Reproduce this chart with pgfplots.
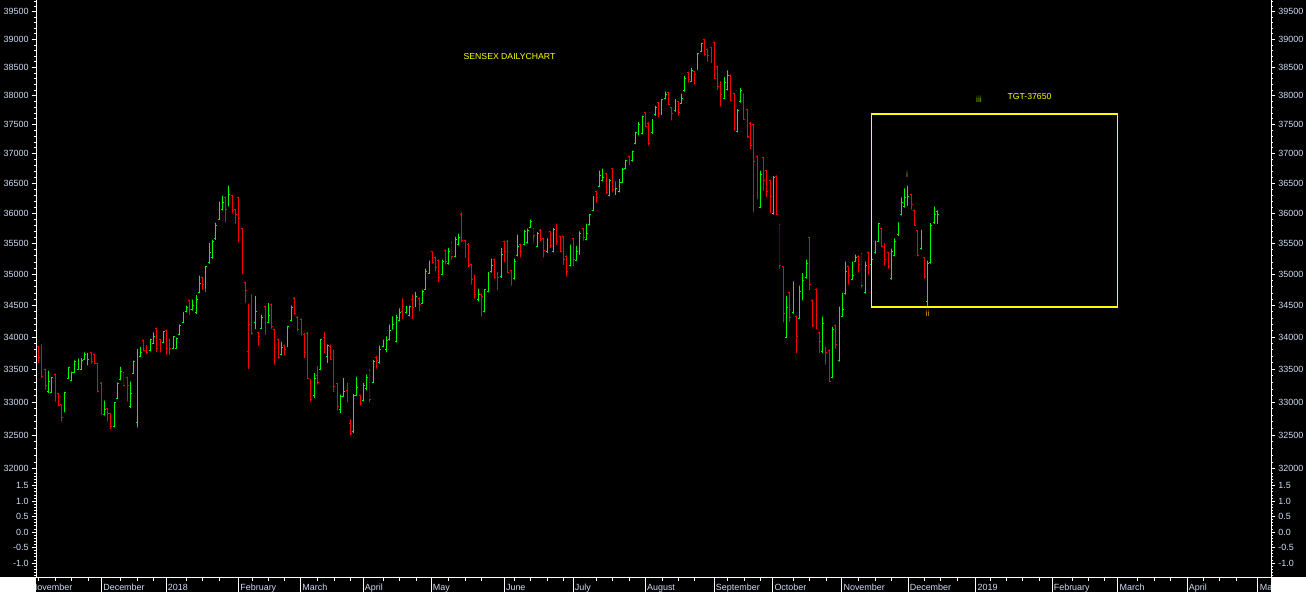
\documentclass[border=0pt]{standalone}
\usepackage{fontspec}
\setmainfont{Liberation Sans}
\usepackage{pgfplots}
\usepackage{pgfplotstable}
\pgfplotsset{compat=1.18}
\definecolor{bargreen}{RGB}{0,250,0}
\definecolor{barred}{RGB}{255,0,0}
\definecolor{lbl}{RGB}{205,220,245}
\definecolor{ylw}{RGB}{255,255,0}
\definecolor{wi}{RGB}{170,170,0}
\definecolor{wii}{RGB}{230,150,0}
\definecolor{wiii}{RGB}{120,190,0}

\pgfplotstableread{
x o h l c g
1 33848 33868 33599 33677 0
2 33857 33884 33368 33383 0
3 33495 33511 33189 33255 0
4 33162 33480 33138 33307 1
5 33147 33383 33138 33368 1
6 33419 33434 33005 33020 0
7 33127 33138 32934 32949 0
8 32955 32959 32708 32760 0
9 32858 33153 32843 33138 1
10 33353 33537 33353 33521 1
11 33331 33465 33316 33454 1
12 33454 33640 33445 33624 1
13 33506 33666 33485 33573 1
14 33495 33677 33485 33635 1
15 33661 33764 33651 33724 1
16 33573 33755 33557 33661 1
17 33755 33764 33588 33615 0
18 33728 33744 33584 33588 0
19 33588 33599 33147 33153 0
20 33276 33301 32809 32824 0
21 32809 33020 32794 32880 1
22 32895 32910 32708 32824 0
23 32824 32834 32593 32633 0
24 32623 33000 32618 32985 1
25 33051 33296 33046 33281 1
26 33342 33537 33331 33469 1
27 33445 33465 33240 33250 0
28 33368 33388 33010 33250 0
29 32934 33311 32910 33127 1
30 33439 33635 33429 33624 1
31 32684 33817 32618 33624 1
32 33702 33848 33692 33764 1
33 33950 33961 33779 33790 0
34 33857 33873 33739 33755 0
35 33790 33972 33779 33961 1
36 33910 34076 33894 34008 1
37 34134 34150 33770 33832 0
38 33961 33972 33764 33842 0
39 33919 34098 33910 34087 1
40 34098 34118 33728 33817 0
41 33961 33977 33724 33826 0
42 33826 34012 33817 34003 1
43 33832 33992 33821 33981 1
44 34039 34202 34035 34192 1
45 34233 34397 34224 34366 1
46 34402 34497 34391 34461 1
47 34577 34593 34350 34445 0
48 34429 34593 34418 34502 1
49 34382 34668 34366 34604 1
50 34710 34978 34700 34849 1
51 34941 34957 34753 34833 0
52 34764 35123 34710 35119 1
53 35184 35508 35172 35346 1
54 35264 35562 35253 35534 1
55 35574 35837 35562 35793 1
56 35901 36191 35890 36169 1
57 36056 36291 36045 36180 1
58 36258 36269 35847 36056 0
59 36124 36458 36112 36308 1
60 36291 36308 36002 36045 0
61 36056 36069 35826 35974 0
62 36258 36269 35518 35919 0
63 35739 35755 35015 35021 0
64 34861 34877 34540 34742 0
65 33770 34529 33506 34195 0
66 34655 34672 34039 34066 0
67 34224 34655 34129 34413 1
68 34071 34082 33873 34005 0
69 34139 34355 34129 34303 1
70 34486 34497 34039 34055 0
71 34233 34540 34224 34339 1
72 34513 34529 34134 34170 0
73 34118 34134 33573 33832 0
74 33961 33977 33666 33677 0
75 33728 33925 33718 33842 1
76 33873 33884 33718 33806 0
77 33852 34181 33842 34170 1
78 34260 34497 34249 34470 1
79 34612 34628 34355 34366 0
80 34313 34329 34092 34118 0
81 34276 34292 34028 34050 0
82 34050 34066 33677 33755 0
83 34066 34082 33353 33353 0
84 33340 33353 33009 33040 0
85 33100 33445 33061 33353 1
86 33400 33546 33265 33301 0
87 33500 33972 33485 33961 1
88 34000 34082 33755 33832 0
89 33700 33884 33599 33873 1
90 33860 33884 33651 33661 0
91 33660 33806 33150 33240 0
92 33280 33292 32874 32925 0
93 32880 33110 32834 33080 1
94 33090 33368 33084 33158 1
95 33180 33292 32994 33009 0
96 32673 32733 32497 32523 0
97 32560 33121 32533 33095 1
98 33100 33383 33095 33220 1
99 33100 33110 32944 32974 0
100 33030 33292 33009 33250 1
101 33200 33419 33174 33373 1
102 33480 33506 32985 33035 0
103 33300 33646 33292 33620 1
104 33690 33713 33511 33635 0
105 33600 33868 33588 33806 1
106 33850 33961 33842 33884 1
107 33800 34013 33764 33946 1
108 33960 34197 33950 34102 1
109 34130 34328 34118 34197 1
110 33930 34355 33919 34308 1
111 34260 34450 34249 34394 1
112 34400 34609 34292 34481 0
113 34380 34486 34371 34481 1
114 34340 34497 34329 34481 1
115 34600 34673 34287 34465 0
116 34490 34716 34476 34641 1
117 34620 34631 34407 34513 0
118 34540 34753 34529 34721 1
119 34760 35091 34753 35042 1
120 35020 35221 35010 35042 1
121 35360 35372 35172 35188 0
122 35270 35281 35047 35107 0
123 35220 35237 34877 34945 0
124 35000 35237 34994 35205 1
125 35380 35399 35156 35205 0
126 35170 35427 35156 35367 1
127 35520 35535 35226 35285 0
128 35290 35607 35275 35562 1
129 35480 35661 35469 35595 1
130 35980 36012 35525 35546 0
131 35550 35562 35266 35299 0
132 35490 35508 35115 35140 0
133 35160 35172 34833 34913 0
134 34980 34994 34609 34673 0
135 34600 34769 34566 34673 1
136 34680 34689 34329 34641 0
137 34400 34753 34391 34753 1
138 34730 35037 34710 34978 1
139 35040 35253 35030 35140 1
140 35240 35253 34929 34945 0
141 35020 35037 34742 34945 0
142 34960 35427 34940 35318 1
143 35530 35546 35193 35367 0
144 35540 35562 35021 35026 0
145 35060 35074 34814 34929 0
146 34930 35253 34913 35205 1
147 35310 35645 35291 35448 1
148 35480 35497 35275 35367 0
149 35480 35727 35469 35694 1
150 35510 35743 35497 35710 1
151 35770 35891 35755 35859 1
152 35740 35755 35518 35628 0
153 35450 35689 35437 35661 1
154 35720 35739 35535 35562 0
155 35580 35591 35275 35383 0
156 35360 35579 35346 35432 1
157 35690 35699 35427 35464 0
158 35370 35755 35356 35727 1
159 35810 35826 35480 35529 0
160 35620 35628 35356 35367 0
161 35610 35628 35156 35237 0
162 35290 35302 34966 35042 0
163 35140 35480 35128 35432 1
164 35580 35591 35128 35237 0
165 35220 35464 35210 35367 1
166 35330 35699 35318 35661 1
167 35740 35755 35546 35595 0
168 35560 35826 35551 35661 1
169 35810 35990 35798 35974 1
170 36050 36279 36044 36274 1
171 36360 36375 36174 36260 0
172 36450 36711 36436 36627 1
173 36540 36745 36530 36593 1
174 36660 36672 36319 36341 0
175 36290 36571 36279 36542 1
176 36745 36757 36345 36391 0
177 36310 36530 36303 36408 1
178 36360 36571 36345 36508 1
179 36520 36757 36513 36728 1
180 36750 36897 36740 36880 1
181 36955 36965 36813 36830 0
182 36880 37050 36868 37033 1
183 37180 37381 37165 37359 1
184 37325 37543 37313 37508 1
185 37345 37653 37330 37641 1
186 37705 37717 37457 37462 0
187 37530 37543 37141 37170 0
188 37360 37601 37342 37583 1
189 37670 37826 37658 37800 1
190 37880 37891 37623 37687 0
191 37700 37943 37670 37930 1
192 37960 38075 37948 38017 1
193 38060 38071 37839 37856 0
194 37790 37804 37571 37700 0
195 37740 37948 37727 37861 1
196 37900 37913 37658 37717 0
197 37870 38035 37861 37960 1
198 38090 38353 38076 38313 1
199 38410 38419 38235 38280 0
200 38260 38489 38253 38442 1
201 38430 38442 38194 38383 0
202 38460 38762 38447 38745 1
203 38790 38936 38775 38923 1
204 39000 39012 38714 38727 0
205 38820 38834 38607 38709 0
206 38850 38864 38579 38620 0
207 38940 38954 38294 38313 0
208 38520 38530 38106 38159 0
209 38240 38253 37807 38017 0
210 37960 38330 37943 38244 1
211 38110 38447 38094 38353 1
212 38360 38371 37901 37922 0
213 38040 38047 37393 37411 0
214 37380 37769 37364 37739 1
215 37900 38134 37884 38087 1
216 38020 38035 37578 37583 0
217 37760 37774 37268 37291 0
218 37530 37543 37077 37136 0
219 37500 37513 36012 36863 0
220 36950 36965 36236 36324 0
221 36100 36711 36082 36644 1
222 36930 36948 36375 36542 0
223 36715 36728 36269 36358 0
224 36545 36559 36002 36274 0
225 35990 36627 35974 36593 1
226 36620 36632 35969 35974 0
227 35810 35826 35083 35140 0
228 35120 35129 34234 34371 0
229 34000 34654 33988 34465 1
230 34700 34718 34249 34308 0
231 34380 34886 34371 34721 1
232 34330 34339 33755 34008 0
233 34300 34817 34292 34721 1
234 34590 35021 34580 34897 1
235 34940 35237 34929 35172 1
236 35600 35612 34745 34833 0
237 34580 34593 34161 34181 0
238 34755 34769 34129 34165 0
239 34070 34082 33760 33930 0
240 33770 34323 33752 34213 1
241 33840 33852 33573 33764 0
242 33795 33806 33301 33316 0
243 33380 34162 33366 34118 1
244 34185 34197 33821 33884 0
245 33640 34481 33620 34429 1
246 34335 34705 34323 34434 1
247 34690 35204 34673 35046 1
248 35130 35140 34833 34978 0
249 34925 35204 34913 34989 1
250 35210 35318 35204 35265 1
251 35295 35307 35030 35156 0
252 35335 35346 34769 34817 0
253 34700 35204 34689 35145 1
254 35355 35367 34994 35123 0
255 35165 35248 35156 35237 1
256 35345 35546 35334 35480 1
257 35540 35826 35529 35821 1
258 35745 35760 35437 35448 0
259 35495 35508 35145 35234 0
260 35350 35362 35091 35123 0
261 34930 35416 34913 35372 1
262 35300 35579 35291 35524 1
263 35640 35847 35628 35710 1
264 35975 36263 35962 36171 1
265 36110 36413 36094 36253 1
266 36135 36458 36124 36279 1
267 36310 36324 36056 36143 0
268 36045 36056 35798 35798 0
269 35715 35727 35291 35307 0
270 35410 35727 35399 35716 1
271 35265 35275 34929 34957 0
272 34561 35221 34461 35172 1
273 35185 35837 35172 35793 1
274 35835 36107 35821 35969 1
275 36023 36045 35826 35969 1
}\ohlc

% Build one \addplot per OHLC bar from the table (outside any axis)
\pgfplotstablegetrowsof{\ohlc}
\pgfmathtruncatemacro{\myLastRow}{\pgfplotsretval-1}
\gdef\myAllBars{}
\foreach \myI in {0,...,\myLastRow}{%
  \pgfplotstablegetelem{\myI}{x}\of\ohlc \global\let\myBarX\pgfplotsretval
  \pgfplotstablegetelem{\myI}{o}\of\ohlc \global\let\myBarO\pgfplotsretval
  \pgfplotstablegetelem{\myI}{h}\of\ohlc \global\let\myBarH\pgfplotsretval
  \pgfplotstablegetelem{\myI}{l}\of\ohlc \global\let\myBarL\pgfplotsretval
  \pgfplotstablegetelem{\myI}{c}\of\ohlc \global\let\myBarC\pgfplotsretval
  \pgfplotstablegetelem{\myI}{g}\of\ohlc
  \ifnum\pgfplotsretval=1 \gdef\myBarCol{bargreen}\else\gdef\myBarCol{barred}\fi
  \pgfmathsetmacro{\myBarXa}{\myBarX-0.42}%
  \pgfmathsetmacro{\myBarXb}{\myBarX+0.42}%
  \xdef\myAllBars{\unexpanded\expandafter{\myAllBars}%
    \noexpand\addplot[\myBarCol, line width=0.5pt, line join=bevel, forget plot] coordinates {(\myBarXa,\myBarO) (\myBarX,\myBarO) (\myBarX,\myBarH) (\myBarX,\myBarL) (\myBarX,\myBarC) (\myBarXb,\myBarC)};}%
}

% The whole picture is built at half size (653 x 296 bp); it is rasterised to 1306 px wide.
\begin{document}
\begin{tikzpicture}
\useasboundingbox (0bp,0bp) rectangle (653bp,296bp);
\fill[black] (0bp,0bp) rectangle (653bp,296bp);

% ---------- price pane with OHLC bars (left labels)
\begin{axis}[
  scale only axis, width=617.5bp, height=236bp,
  at={(18bp,60bp)}, anchor=south west,
  xmin=0.177, xmax=376.7,
  ymode=log, ymin=31958, ymax=39719,
  axis line style={draw=none},
  tick align=outside,
  tick style={white, line width=0.4pt},
  major tick length=2bp, minor tick length=1bp,
  xtick=\empty,
  ytick={32000,32500,33000,33500,34000,34500,35000,35500,36000,36500,37000,37500,38000,38500,39000,39500},
  yticklabels={32000,32500,33000,33500,34000,34500,35000,35500,36000,36500,37000,37500,38000,38500,39000,39500},
  minor ytick={32100,32200,32300,32400,32600,32700,32800,32900,33100,33200,33300,33400,33600,33700,33800,33900,34100,34200,34300,34400,34600,34700,34800,34900,35100,35200,35300,35400,35600,35700,35800,35900,36100,36200,36300,36400,36600,36700,36800,36900,37100,37200,37300,37400,37600,37700,37800,37900,38100,38200,38300,38400,38600,38700,38800,38900,39100,39200,39300,39400,39600,39700},
  ytick pos=both, yticklabel pos=left,
  yticklabel style={font=\fontsize{4.5}{5}\selectfont, text=lbl, inner sep=0pt, anchor=east, xshift=-1.5bp},
]
\myAllBars
\addplot[ylw, line width=0.6pt, forget plot] coordinates {(254.8,34477) (329.85,34477) (329.85,37682) (254.8,37682) (254.8,34477)};
\end{axis}

% ---------- price pane right labels
\begin{axis}[
  scale only axis, width=617.5bp, height=236bp,
  at={(18bp,60bp)}, anchor=south west,
  xmin=0.177, xmax=376.7,
  ymode=log, ymin=31958, ymax=39719,
  axis line style={draw=none},
  tick align=outside,
  tick style={white, line width=0.4pt},
  major tick length=2bp, minor tick length=1bp,
  xtick=\empty,
  ytick={32000,32500,33000,33500,34000,34500,35000,35500,36000,36500,37000,37500,38000,38500,39000,39500},
  yticklabels={32000,32500,33000,33500,34000,34500,35000,35500,36000,36500,37000,37500,38000,38500,39000,39500},
  minor ytick={32100,32200,32300,32400,32600,32700,32800,32900,33100,33200,33300,33400,33600,33700,33800,33900,34100,34200,34300,34400,34600,34700,34800,34900,35100,35200,35300,35400,35600,35700,35800,35900,36100,36200,36300,36400,36600,36700,36800,36900,37100,37200,37300,37400,37600,37700,37800,37900,38100,38200,38300,38400,38600,38700,38800,38900,39100,39200,39300,39400,39600,39700},
  ytick pos=both, yticklabel pos=right,
  yticklabel style={font=\fontsize{4.5}{5}\selectfont, text=lbl, inner sep=0pt, anchor=west, xshift=1.5bp},
]
\end{axis}

% ---------- lower (empty) pane, left labels
\begin{axis}[
  scale only axis, width=617.5bp, height=52.5bp,
  at={(18bp,7.5bp)}, anchor=south west,
  xmin=0.177, xmax=376.7, ymin=-1.453, ymax=1.943,
  axis line style={draw=none},
  tick align=outside,
  tick style={white, line width=0.4pt},
  major tick length=2bp, minor tick length=1bp,
  xtick=\empty,
  ytick={-1,-0.5,0,0.5,1,1.5},
  yticklabels={-1.0,-0.5,0.0,0.5,1.0,1.5},
  minor ytick={-1.4,-1.3,-1.2,-1.1,-0.9,-0.8,-0.7,-0.6,-0.4,-0.3,-0.2,-0.1,0.1,0.2,0.3,0.4,0.6,0.7,0.8,0.9,1.1,1.2,1.3,1.4,1.6,1.7,1.8,1.9},
  ytick pos=both, yticklabel pos=left,
  yticklabel style={font=\fontsize{4.5}{5}\selectfont, text=lbl, inner sep=0pt, anchor=east, xshift=-1.5bp},
]
\end{axis}

% ---------- lower pane, right labels
\begin{axis}[
  scale only axis, width=617.5bp, height=52.5bp,
  at={(18bp,7.5bp)}, anchor=south west,
  xmin=0.177, xmax=376.7, ymin=-1.453, ymax=1.943,
  axis line style={draw=none},
  tick align=outside,
  tick style={white, line width=0.4pt},
  major tick length=2bp, minor tick length=1bp,
  xtick=\empty,
  ytick={-1,-0.5,0,0.5,1,1.5},
  yticklabels={-1.0,-0.5,0.0,0.5,1.0,1.5},
  minor ytick={-1.4,-1.3,-1.2,-1.1,-0.9,-0.8,-0.7,-0.6,-0.4,-0.3,-0.2,-0.1,0.1,0.2,0.3,0.4,0.6,0.7,0.8,0.9,1.1,1.2,1.3,1.4,1.6,1.7,1.8,1.9},
  ytick pos=both, yticklabel pos=right,
  yticklabel style={font=\fontsize{4.5}{5}\selectfont, text=lbl, inner sep=0pt, anchor=west, xshift=1.5bp},
]
\end{axis}

% ---------- month axis
\begin{axis}[
  scale only axis, width=617.5bp, height=52.5bp,
  at={(18bp,7.5bp)}, anchor=south west,
  xmin=0.177, xmax=376.7, ymin=0, ymax=1,
  axis line style={draw=none},
  tick align=outside,
  tick style={white, line width=0.4pt},
  major tick length=7.5bp, minor tick length=2bp,
  ytick=\empty, xtick pos=left,
  xtick={20.12,39.8,61.9,80.8,99.9,120.6,142.9,163.9,185.9,206.9,224.75,245.8,266.0,286.7,309.9,330.0,351.1,372.7},
  xticklabels={December,2018,February,March,April,May,June,July,August,September,October,November,December,2019,February,March,April,May},
  minor xtick={1,6,11,16,26,31,36,46,51,56,66,71,76,86,91,96,106,111,116,126,131,136,146,151,156,161,171,176,181,191,196,201,211,216,221,231,236,241,251,256,261,271,276,281,291,296,301,306,316,321,326,336,341,346,356,361,366},
  xticklabel style={font=\fontsize{4.5}{5}\selectfont, text=lbl, inner sep=0pt, anchor=base west, xshift=0.75bp, yshift=0.8bp},
]
\end{axis}

\node[anchor=base west, inner sep=0pt, font=\fontsize{4.5}{5}\selectfont, text=lbl] at (15.25bp,0.8bp) {November};

% frame lines and white corners
\draw[white, line width=0.45pt] (18bp,7.5bp) -- (18bp,296bp);
\draw[white, line width=0.45pt] (635.5bp,7.5bp) -- (635.5bp,296bp);
\draw[white, line width=0.45pt] (18bp,7.5bp) -- (635.5bp,7.5bp);
\fill[white] (0bp,0bp) rectangle (17.8bp,7.7bp);
\fill[white] (635.7bp,0bp) rectangle (653bp,7.7bp);

% annotations
\node[text=ylw, font=\fontsize{4.35}{5}\selectfont, inner sep=0pt] at (254.75bp,267.5bp) {SENSEX DAILYCHART};
\node[text=ylw, font=\fontsize{4.35}{5}\selectfont, inner sep=0pt] at (514.75bp,247.5bp) {TGT-37650};
\node[text=wiii, font=\fontsize{4.35}{5}\selectfont, inner sep=0pt] at (489.5bp,246.5bp) {iii};
\node[text=wi, font=\fontsize{4.35}{5}\selectfont, inner sep=0pt] at (453.5bp,209bp) {i};
\node[text=wii, font=\fontsize{4.35}{5}\selectfont, inner sep=0pt] at (463.75bp,139.25bp) {ii};
\end{tikzpicture}
\end{document}
